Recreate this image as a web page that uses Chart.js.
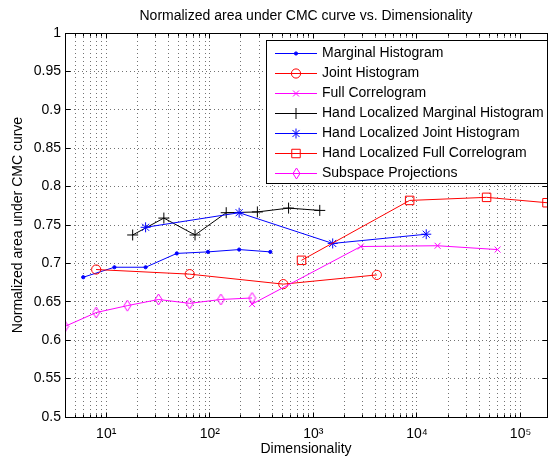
<!DOCTYPE html>
<html>
<head>
<meta charset="utf-8">
<script src="https://cdn.jsdelivr.net/npm/chart.js@4/dist/chart.umd.min.js"></script>
<style>
  html, body { margin: 0; padding: 0; background: #ffffff; }
  #c { display: block; }
</style>
</head>
<body>
<canvas id="c" width="554" height="458"></canvas>
<script>
// ---- Data ----
const seriesNames = [
  'Marginal Histogram',
  'Joint Histogram',
  'Full Correlogram',
  'Hand Localized Marginal Histogram',
  'Hand Localized Joint Histogram',
  'Hand Localized Full Correlogram',
  'Subspace Projections'
];
const xMarginal   = [6, 12, 24, 48, 96, 192, 384];
const yMarginal   = [0.682, 0.695, 0.695, 0.713, 0.715, 0.718, 0.715];
const xJoint      = [8, 64, 512, 4096];
const yJoint      = [0.692, 0.686, 0.673, 0.685];
const xFullCorr   = [256, 2870, 15800, 60000];
const yFullCorr   = [0.647, 0.722, 0.723, 0.718];
const xHLMarginal = [18, 36, 72, 144, 288, 576, 1152];
const yHLMarginal = [0.737, 0.759, 0.737, 0.766, 0.767, 0.772, 0.769];
const xHLJoint    = [24, 192, 1536, 12288];
const yHLJoint    = [0.747, 0.766, 0.726, 0.738];
const xHLFull     = [768, 8500, 47000, 180000];
const yHLFull     = [0.704, 0.782, 0.786, 0.779];
const xSubspace   = [4, 8, 16, 32, 64, 128, 256];
const ySubspace   = [0.618, 0.636, 0.645, 0.653, 0.648, 0.653, 0.655];

const xTickDecades = [10, 100, 1000, 10000, 100000];
const xTickLabels  = ['10\u00B9', '10\u00B2', '10\u00B3', '10\u2074', '10\u2075'];
const yTickStep = 0.05;

const titleText  = 'Normalized area under CMC curve vs. Dimensionality';
const xTitleText = 'Dimensionality';
const yTitleText = 'Normalized area under CMC curve';

// ---- styling ----
const FONT = '"Liberation Sans", Arial, Helvetica, sans-serif';
const FS = 14;
const BLUE = '#0000ff', RED = '#ff0000', MAG = '#ff00ff', BLK = '#000000';
const X_MIN = 4, X_MAX = 180000, Y_MIN = 0.5, Y_MAX = 1;
const GRID = 'rgba(0,0,0,0.55)';

function makeDiamond(color) {
  const cv = document.createElement('canvas');
  cv.width = 9; cv.height = 13;
  const g = cv.getContext('2d');
  g.strokeStyle = color; g.lineWidth = 1;
  g.beginPath();
  g.moveTo(4.5, 1); g.lineTo(8, 6.5); g.lineTo(4.5, 12); g.lineTo(1, 6.5); g.closePath();
  g.stroke();
  return cv;
}
const diamondImg = makeDiamond(MAG);

const styles = [
  { color: BLUE, pointStyle: 'circle',   radius: 1.6, fill: BLUE },
  { color: RED,  pointStyle: 'circle',   radius: 4.6, fill: 'rgba(0,0,0,0)' },
  { color: MAG,  pointStyle: 'crossRot', radius: 4.2, fill: 'rgba(0,0,0,0)' },
  { color: BLK,  pointStyle: 'cross',    radius: 5.5, fill: 'rgba(0,0,0,0)' },
  { color: BLUE, pointStyle: 'star',     radius: 5,   fill: 'rgba(0,0,0,0)' },
  { color: RED,  pointStyle: 'rect',     radius: 6,   fill: 'rgba(0,0,0,0)' },
  { color: MAG,  pointStyle: diamondImg, radius: 6,   fill: 'rgba(0,0,0,0)' }
];

const xs = [xMarginal, xJoint, xFullCorr, xHLMarginal, xHLJoint, xHLFull, xSubspace];
const ys = [yMarginal, yJoint, yFullCorr, yHLMarginal, yHLJoint, yHLFull, ySubspace];

const datasets = seriesNames.map((name, i) => ({
  label: name,
  data: xs[i].map((x, j) => ({ x: x, y: ys[i][j] })),
  borderColor: styles[i].color,
  backgroundColor: styles[i].color,
  borderWidth: 1,
  pointStyle: styles[i].pointStyle,
  pointRadius: styles[i].radius,
  pointBorderColor: styles[i].color,
  pointBackgroundColor: styles[i].fill,
  pointBorderWidth: 1,
  tension: 0,
  fill: false,
  order: seriesNames.length - i
}));

// x tick values: 1..9 x 10^k inside the axis range
const xTickValues = [];
for (let k = 0; k <= 5; k++) {
  for (let m = 1; m <= 9; m++) {
    const v = m * Math.pow(10, k);
    if (v >= X_MIN && v <= X_MAX) xTickValues.push(v);
  }
}

function alignPx(p) { return Math.round(p - 0.5) + 0.5; }

// axes box + inward ticks (MATLAB style)
const boxPlugin = {
  id: 'matlabBox',
  afterDatasetsDraw(chart) {
    const { ctx, chartArea: a, scales } = chart;
    const L = alignPx(a.left), R = alignPx(a.right), T = alignPx(a.top), B = alignPx(a.bottom);
    ctx.save();
    ctx.strokeStyle = '#000'; ctx.lineWidth = 1; ctx.setLineDash([]);
    ctx.beginPath();
    scales.x.ticks.forEach(t => {
      const px = alignPx(scales.x.getPixelForValue(t.value));
      const major = xTickDecades.indexOf(t.value) >= 0;
      const len = major ? 5 : 3;
      ctx.moveTo(px, B); ctx.lineTo(px, B - len);
      ctx.moveTo(px, T); ctx.lineTo(px, T + len);
    });
    scales.y.ticks.forEach(t => {
      const py = alignPx(scales.y.getPixelForValue(t.value));
      ctx.moveTo(L, py); ctx.lineTo(L + 5, py);
      ctx.moveTo(R, py); ctx.lineTo(R - 5, py);
    });
    ctx.stroke();
    ctx.strokeRect(L, T, R - L, B - T);
    ctx.restore();
  }
};

function drawMarker(ctx, st, x, y) {
  ctx.save();
  ctx.strokeStyle = st.color; ctx.fillStyle = st.color; ctx.lineWidth = 1;
  const r = st.radius;
  ctx.beginPath();
  if (st.pointStyle === 'circle') {
    ctx.arc(x, y, r, 0, Math.PI * 2);
    if (st.fill === st.color) ctx.fill();
    ctx.stroke();
  } else if (st.pointStyle === 'cross') {
    ctx.moveTo(x, y - r); ctx.lineTo(x, y + r);
    ctx.moveTo(x - r, y); ctx.lineTo(x + r, y);
    ctx.stroke();
  } else if (st.pointStyle === 'crossRot') {
    const d = r * Math.SQRT1_2;
    ctx.moveTo(x - d, y - d); ctx.lineTo(x + d, y + d);
    ctx.moveTo(x - d, y + d); ctx.lineTo(x + d, y - d);
    ctx.stroke();
  } else if (st.pointStyle === 'star') {
    const d = r * Math.SQRT1_2;
    ctx.moveTo(x, y - r); ctx.lineTo(x, y + r);
    ctx.moveTo(x - r, y); ctx.lineTo(x + r, y);
    ctx.moveTo(x - d, y - d); ctx.lineTo(x + d, y + d);
    ctx.moveTo(x - d, y + d); ctx.lineTo(x + d, y - d);
    ctx.stroke();
  } else if (st.pointStyle === 'rect') {
    const s = r * Math.SQRT1_2;
    ctx.rect(x - s, y - s, 2 * s, 2 * s);
    ctx.stroke();
  } else {
    const img = st.pointStyle;
    ctx.drawImage(img, Math.round(x - img.width / 2), Math.round(y - img.height / 2));
  }
  ctx.restore();
}

// legend box inside the axes (top right)
const legendPlugin = {
  id: 'matlabLegend',
  afterDraw(chart) {
    const ctx = chart.ctx;
    const bx = 266.5, by = 40.5, bw = 281, bh = 143;
    ctx.save();
    ctx.fillStyle = '#ffffff';
    ctx.fillRect(bx, by, bw, bh);
    ctx.strokeStyle = '#000'; ctx.lineWidth = 1;
    ctx.strokeRect(bx, by, bw, bh);
    ctx.font = FS + 'px ' + FONT;
    ctx.textBaseline = 'middle';
    ctx.textAlign = 'left';
    seriesNames.forEach((name, i) => {
      const y = Math.round(52.5 + i * 20) + 0.5;
      const st = styles[i];
      ctx.strokeStyle = st.color; ctx.lineWidth = 1;
      ctx.beginPath(); ctx.moveTo(275, y); ctx.lineTo(317, y); ctx.stroke();
      drawMarker(ctx, st, 296, y);
      ctx.fillStyle = '#000';
      ctx.fillText(name, 322, y);
    });
    ctx.restore();
  }
};

const dotted = { display: true, color: '#000', width: 1, dash: [1, 3] };

new Chart(document.getElementById('c'), {
  type: 'line',
  data: { datasets: datasets },
  options: {
    responsive: false,
    animation: false,
    devicePixelRatio: 1,
    layout: { padding: { left: 0, right: 2, top: 0, bottom: 0 } },
    plugins: {
      legend: { display: false },
      tooltip: { enabled: false },
      title: {
        display: true,
        text: titleText,
        fullSize: false,
        color: '#000',
        font: { family: FONT, size: FS, weight: 'normal' },
        padding: { top: 8, bottom: 8.2 }
      }
    },
    scales: {
      x: {
        type: 'logarithmic',
        min: X_MIN, max: X_MAX,
        afterBuildTicks(scale) { scale.ticks = xTickValues.map(v => ({ value: v })); },
        afterFit(scale) { scale.height = 41; },
        ticks: {
          autoSkip: false, maxRotation: 0, minRotation: 0,
          color: '#000', padding: 9,
          font: { family: FONT, size: FS },
          callback(v) { const i = xTickDecades.indexOf(v); return i >= 0 ? xTickLabels[i] : ''; }
        },
        grid: { color: GRID, lineWidth: 1, drawTicks: false },
        border: dotted,
        title: {
          display: true, text: xTitleText, color: '#000',
          font: { family: FONT, size: FS }, padding: { top: 0, bottom: 0 }
        }
      },
      y: {
        type: 'linear',
        min: Y_MIN, max: Y_MAX,
        afterFit(scale) { scale.width = 65; },
        ticks: {
          stepSize: yTickStep, color: '#000', padding: 4,
          font: { family: FONT, size: FS },
          callback(v) { return String(Number(v.toFixed(2))); }
        },
        grid: { color: GRID, lineWidth: 1, drawTicks: false },
        border: dotted,
        title: {
          display: true, text: yTitleText, color: '#000',
          font: { family: FONT, size: FS }, padding: { top: 9.5, bottom: 0 }
        }
      }
    }
  },
  plugins: [boxPlugin, legendPlugin]
});
</script>
</body>
</html>
